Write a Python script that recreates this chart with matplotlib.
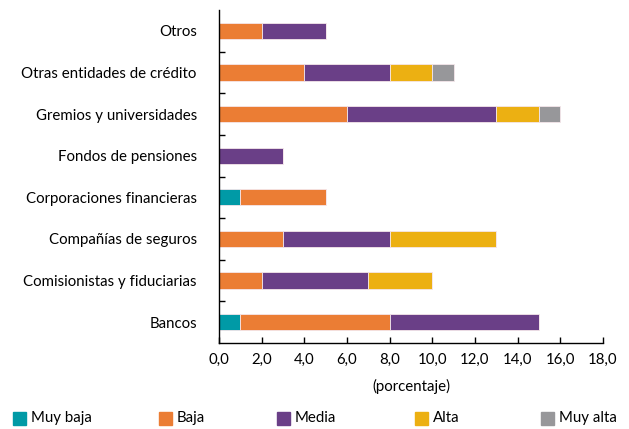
import matplotlib.pyplot as plt
import numpy as np
from matplotlib.patches import Rectangle
from matplotlib.ticker import MultipleLocator, FuncFormatter

plt.rcParams['font.family'] = ['Lato', 'DejaVu Sans']
plt.rcParams['font.size'] = 10.8

categorias = ['Bancos', 'Comisionistas y fiduciarias', 'Compañías de seguros',
              'Corporaciones financieras', 'Fondos de pensiones',
              'Gremios y universidades', 'Otras entidades de crédito', 'Otros']
niveles = ['Muy baja', 'Baja', 'Media', 'Alta', 'Muy alta']
muy_baja = [1, 0, 0, 1, 0, 0, 0, 0]
baja     = [7, 2, 3, 4, 0, 6, 4, 2]
media    = [7, 5, 5, 0, 3, 7, 4, 3]
alta     = [0, 3, 5, 0, 0, 2, 2, 0]
muy_alta = [0, 0, 0, 0, 0, 1, 1, 0]
colores = ['#009AA6', '#EB7D34', '#6A3F87', '#ECB012', '#97979A']

fig = plt.figure(figsize=(6.29, 4.29), dpi=100)
ax = fig.add_axes([219/629, 1-343/429, (603-219)/629, (343-10)/429])

y = np.arange(len(categorias))
left = np.zeros(len(categorias))
for serie, col in zip([muy_baja, baja, media, alta, muy_alta], colores):
    vals = np.array(serie, dtype=float)
    ax.barh(y, vals, left=left, height=0.39, color=col, edgecolor='#f4e6ea', linewidth=0.6)
    left += vals

ax.set_xlim(0, 18)
ax.set_ylim(-0.5, 7.5)
ax.set_yticks(y)
ax.set_yticklabels(categorias)
ax.tick_params(axis='y', length=0, pad=16)
# small ticks between categories
ax.set_yticks(np.arange(0.5, 7.0, 1.0), minor=True)
ax.tick_params(axis='y', which='minor', direction='in', length=4, width=1)
ax.xaxis.set_major_locator(MultipleLocator(2))
ax.xaxis.set_major_formatter(FuncFormatter(lambda v, p: ('%.1f' % v).replace('.', ',')))
ax.tick_params(axis='x', direction='in', length=4, width=1, pad=7)
ax.spines['top'].set_visible(False)
ax.spines['right'].set_visible(False)
ax.spines['left'].set_linewidth(1)
ax.spines['bottom'].set_linewidth(1)
ax.set_xlabel('(porcentaje)', labelpad=9)

# legend
leg_x = [13, 159, 277, 415, 541]
for xp, lab, col in zip(leg_x, niveles, colores):
    fig.patches.append(Rectangle((xp/629, 1-425/429), 13/629, 13/429,
                                 transform=fig.transFigure, color=col))
    fig.text((xp+18)/629, 1-418/429, lab, va='center', ha='left')

fig.savefig('out.png', dpi=100)
